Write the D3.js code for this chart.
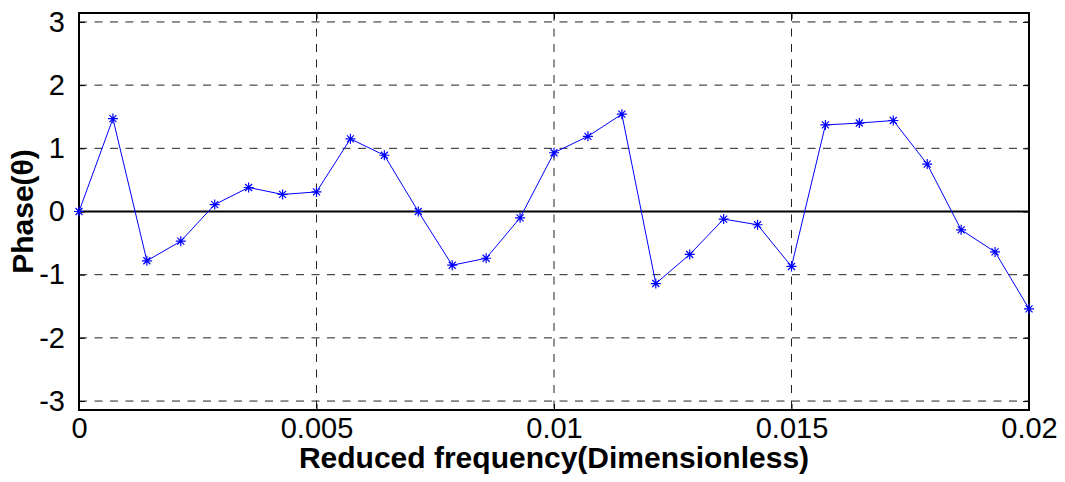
<!DOCTYPE html>
<html>
<head>
<meta charset="utf-8">
<script src="https://cdn.jsdelivr.net/npm/d3@7"></script>
<style>
html,body{margin:0;padding:0;background:#fff;}
svg{display:block;font-family:Arial,"Liberation Sans",sans-serif;}
</style>
</head>
<body>
<svg id="chart" width="1065" height="482"></svg>
<script>
const phaseValues = [0, 1.47, -0.78, -0.47, 0.11, 0.38, 0.27, 0.31, 1.15, 0.89, 0.0, -0.85, -0.74, -0.10, 0.93, 1.19, 1.54, -1.14, -0.68, -0.12, -0.21, -0.87, 1.37, 1.40, 1.44, 0.75, -0.29, -0.64, -1.54];
const freqStep = 0.02 / 28;
const frequencies = phaseValues.map((d, i) => i * freqStep);
const xTicks = [0, 0.005, 0.01, 0.015, 0.02];
const xTickLabels = ["0", "0.005", "0.01", "0.015", "0.02"];
const yTicks = [-3, -2, -1, 0, 1, 2, 3];
const yTickLabels = ["-3", "-2", "-1", "0", "1", "2", "3"];

const svg = d3.select("#chart");
const L = 79, R = 1029, T = 13, B = 410;
const x = d3.scaleLinear().domain([0, 0.02]).range([L, R]);
const y = d3.scaleLinear().domain([-Math.PI, Math.PI]).range([B, T]);

// grid
const g = svg.append("g");
g.selectAll("line.hg").data(yTicks.filter(d => d !== 0)).enter().append("line")
  .attr("x1", L).attr("x2", R).attr("y1", d => y(d)).attr("y2", d => y(d))
  .attr("stroke", "#222").attr("stroke-width", 1).attr("stroke-dasharray", "8,7.5");
g.selectAll("line.vg").data(xTicks.slice(1, -1)).enter().append("line")
  .attr("y1", T).attr("y2", B).attr("x1", d => x(d)).attr("x2", d => x(d))
  .attr("stroke", "#222").attr("stroke-width", 1).attr("stroke-dasharray", "8,7.5");

// zero line
svg.append("line").attr("x1", L).attr("x2", R).attr("y1", y(0)).attr("y2", y(0))
  .attr("stroke", "#000").attr("stroke-width", 2);

// axes with inward ticks
const xAxis = d3.axisBottom(x).tickValues(xTicks).tickFormat((d, i) => xTickLabels[i]).tickSizeInner(-6).tickSizeOuter(0).tickPadding(7);
const yAxis = d3.axisLeft(y).tickValues(yTicks).tickFormat((d, i) => yTickLabels[i]).tickSizeInner(-6).tickSizeOuter(0).tickPadding(14);
const xAxisTop = d3.axisTop(x).tickValues(xTicks).tickFormat("").tickSizeInner(-6).tickSizeOuter(0);
const yAxisRight = d3.axisRight(y).tickValues(yTicks).tickFormat("").tickSizeInner(-6).tickSizeOuter(0);

const gx = svg.append("g").attr("transform", `translate(0,${B})`).call(xAxis);
const gy = svg.append("g").attr("transform", `translate(${L},0)`).call(yAxis);
const gxt = svg.append("g").attr("transform", `translate(0,${T})`).call(xAxisTop);
const gyr = svg.append("g").attr("transform", `translate(${R},0)`).call(yAxisRight);
[gx, gy, gxt, gyr].forEach(a => {
  a.select(".domain").remove();
  a.selectAll(".tick line").attr("stroke", "#000").attr("stroke-width", 1);
  a.selectAll("text").attr("font-size", 29).attr("fill", "#000").attr("font-family", "Arial, 'Liberation Sans', sans-serif");
});
gx.selectAll("text").attr("dy", "0.71em");

// box
svg.append("rect").attr("x", L).attr("y", T).attr("width", R - L).attr("height", B - T)
  .attr("fill", "none").attr("stroke", "#000").attr("stroke-width", 2);

// line
const line = d3.line().x((d, i) => x(frequencies[i])).y(d => y(d));
svg.append("path").datum(phaseValues).attr("d", line)
  .attr("fill", "none").attr("stroke", "#0000ff").attr("stroke-width", 1);

// asterisk markers
const s = 5;
const mk = svg.append("g");
phaseValues.forEach((d, i) => {
  const cx = x(frequencies[i]), cy = y(d);
  const p = `M${cx - s},${cy}L${cx + s},${cy}M${cx},${cy - s}L${cx},${cy + s}` +
    `M${cx - s * 0.7},${cy - s * 0.7}L${cx + s * 0.7},${cy + s * 0.7}M${cx - s * 0.7},${cy + s * 0.7}L${cx + s * 0.7},${cy - s * 0.7}`;
  mk.append("path").attr("d", p).attr("stroke", "#0000ff").attr("stroke-width", 1.2).attr("fill", "none");
});

// labels
svg.append("text").attr("x", (L + R) / 2).attr("y", 468).attr("text-anchor", "middle")
  .attr("font-size", 30).attr("font-weight", "bold").attr("fill", "#000")
  .text("Reduced frequency(Dimensionless)");
svg.append("text").attr("transform", `translate(33,${y(0)}) rotate(-90)`).attr("text-anchor", "middle")
  .attr("font-size", 30).attr("font-weight", "bold").attr("fill", "#000")
  .text("Phase(θ)");
</script>
</body>
</html>
